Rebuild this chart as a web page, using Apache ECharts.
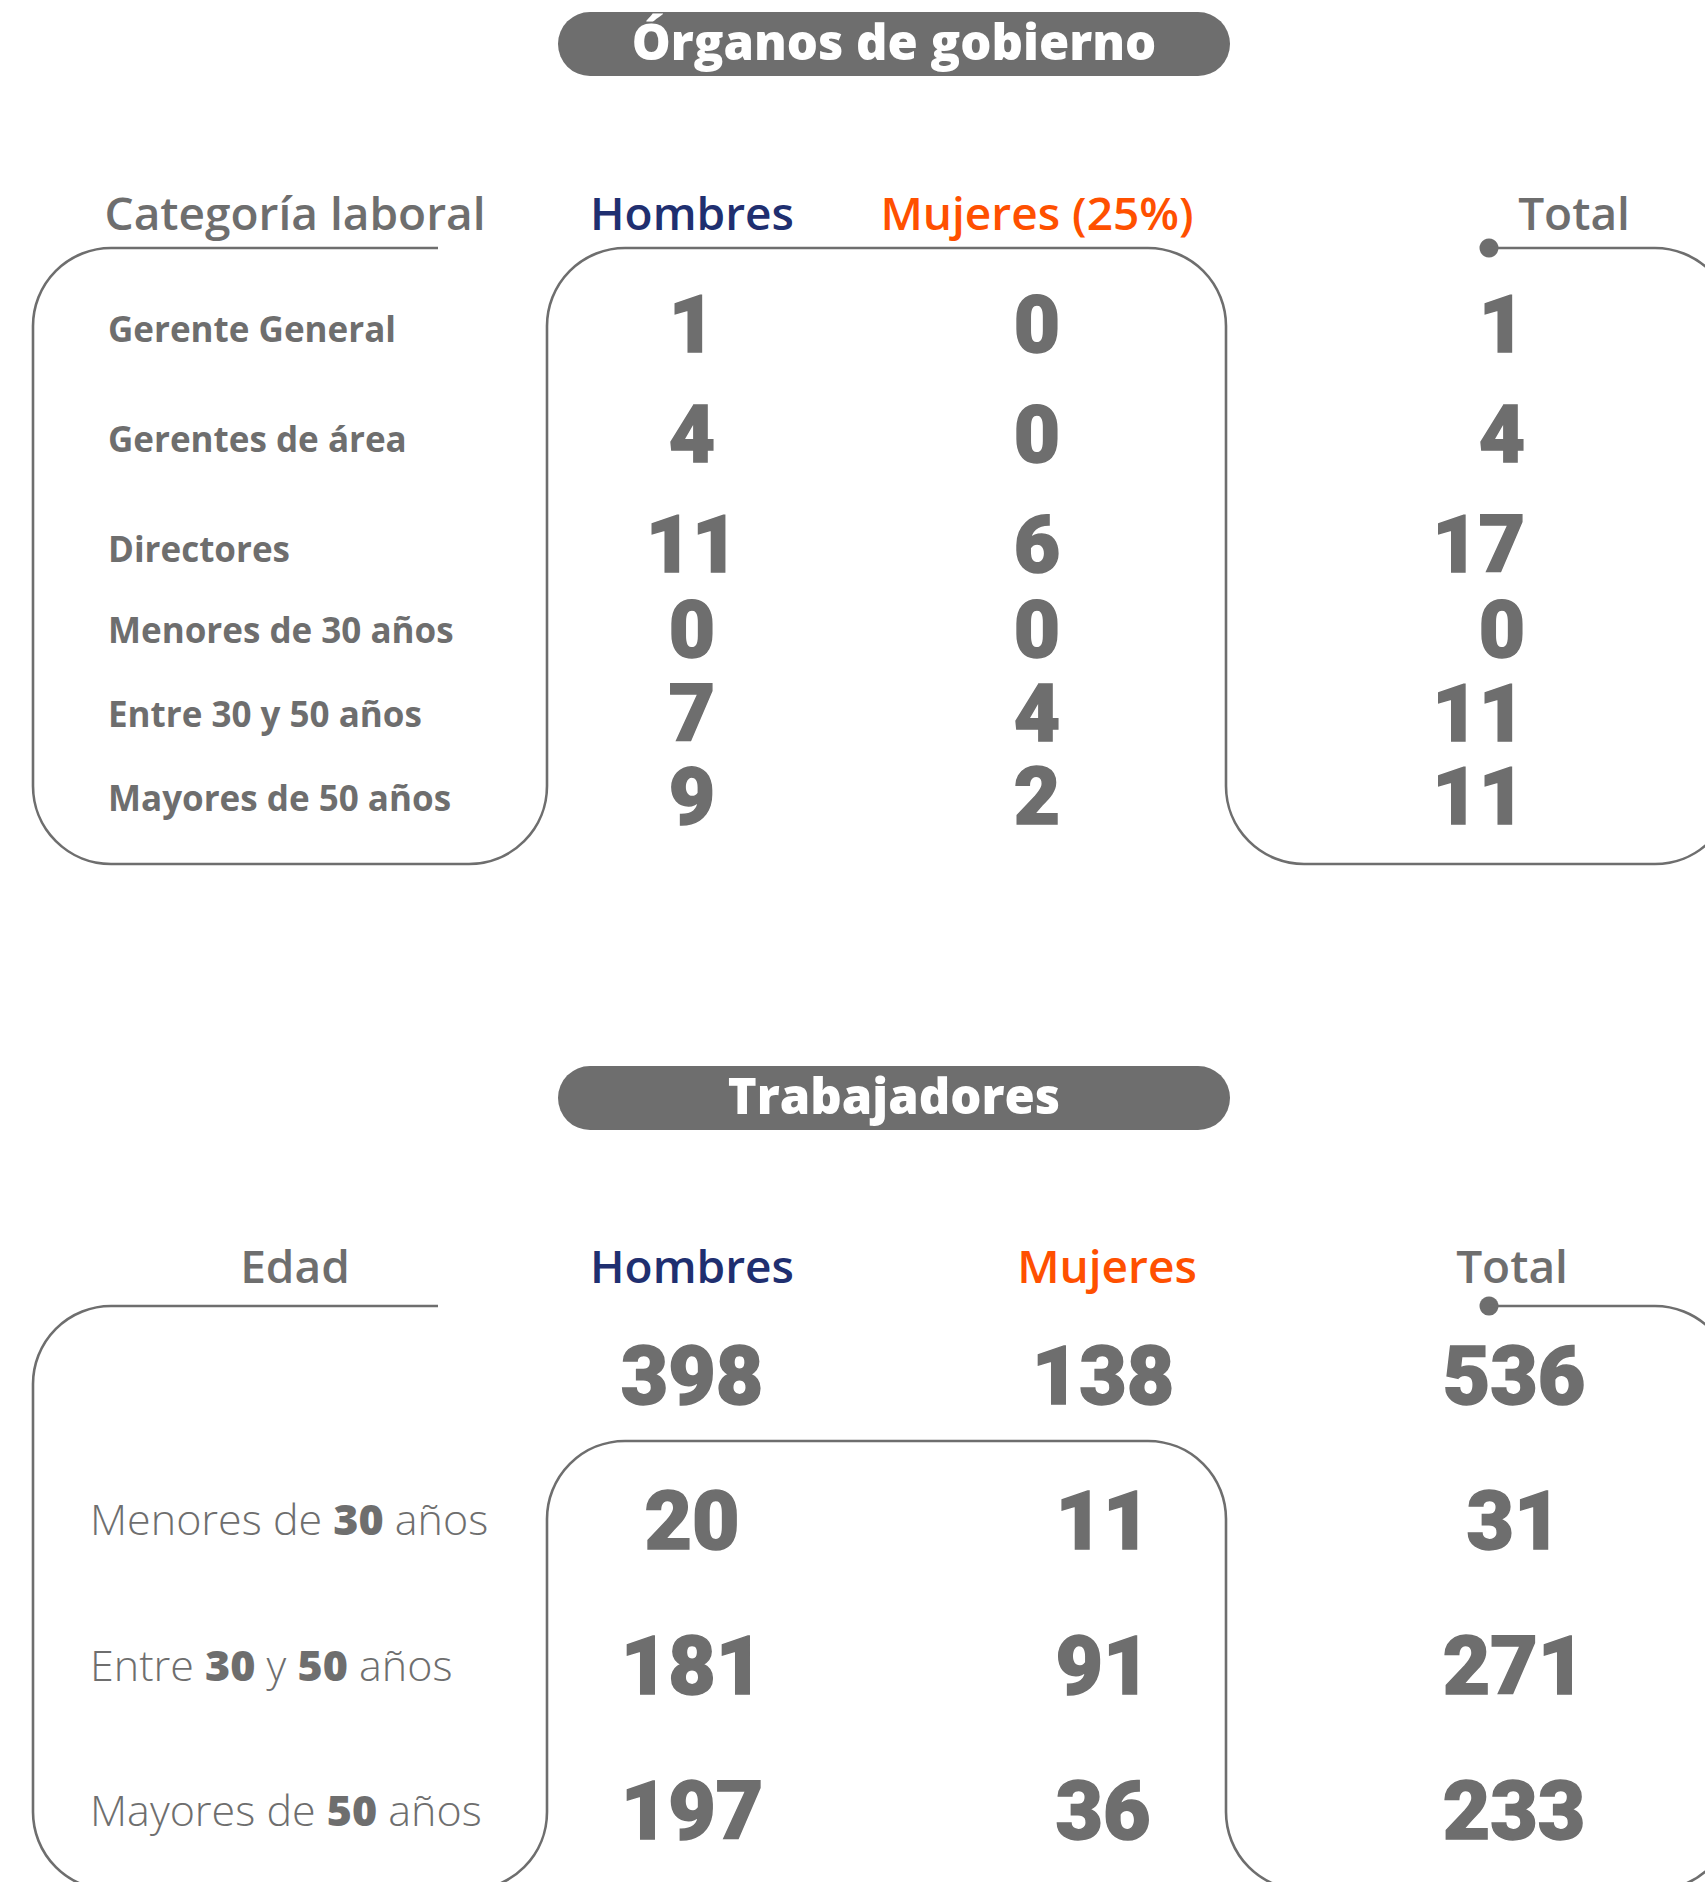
<!DOCTYPE html>
<html><head><meta charset="utf-8">
<script src="https://cdn.jsdelivr.net/npm/echarts@6/dist/echarts.min.js"></script>
<style>html,body{margin:0;padding:0;background:#fff}#c{width:1705px;height:1882px}</style>
</head><body><div id="c"></div>
<script>
// ---- data ----
const titles = ['Órganos de gobierno', 'Trabajadores'];
const header1 = ['Categoría laboral', 'Hombres', 'Mujeres (25%)', 'Total'];
const header2 = ['Edad', 'Hombres', 'Mujeres', 'Total'];
const columns = ['Hombres', 'Mujeres', 'Total'];
const categories1 = ['Gerente General', 'Gerentes de área', 'Directores', 'Menores de 30 años', 'Entre 30 y 50 años', 'Mayores de 50 años'];
const hombres1 = [1, 4, 11, 0, 7, 9];
const mujeres1 = [0, 0, 6, 0, 4, 2];
const total1 = [1, 4, 17, 0, 11, 11];
const categories2 = ['Total', 'Menores de 30 años', 'Entre 30 y 50 años', 'Mayores de 50 años'];
const hombres2 = [398, 20, 181, 197];
const mujeres2 = [138, 11, 91, 36];
const total2 = [536, 31, 271, 233];

// ---- style ----
const GRAY = '#6e6e6e', NAVY = '#1f2f70', ORANGE = '#ff5000';
const SANS = '"Open Sans", "Noto Sans", sans-serif';
const NUMF = 'Roboto, "Open Sans", sans-serif';
const LW = 2.6, R = 78;

const chart = echarts.init(document.getElementById('c'), null, {renderer: 'svg'});

// graphic helpers
const G = [];
function line(x1, y1, x2, y2) { G.push({type: 'line', shape: {x1, y1, x2, y2}, style: {stroke: GRAY, lineWidth: LW}}); }
function arc(cx, cy, q) {
  const s = {TL: [Math.PI, 1.5 * Math.PI], TR: [1.5 * Math.PI, 2 * Math.PI], BR: [0, 0.5 * Math.PI], BL: [0.5 * Math.PI, Math.PI]}[q];
  G.push({type: 'arc', shape: {cx, cy, r: R, startAngle: s[0], endAngle: s[1], clockwise: true}, style: {stroke: GRAY, lineWidth: LW, fill: null}});
}
function dot(x, y) { G.push({type: 'circle', shape: {cx: x, cy: y, r: 9.5}, style: {fill: GRAY}}); }
function txt(t, x, y, size, weight, color, family) {
  G.push({type: 'text', x, y, style: {text: t, fill: color, fontSize: size, fontWeight: weight, fontFamily: family || SANS, align: 'center', verticalAlign: 'middle'}});
}
function pill(y, t, size) {
  G.push({type: 'rect', shape: {x: 558, y, width: 672, height: 64, r: 32}, style: {fill: GRAY}});
  txt(t, 894, y + 29, size, 800, '#fff');
}
// snake frame
function frame(top, midTop, bottom) {
  const L = 33, M1 = 547, M2 = 1226, RX = 1733;
  line(L + R, top, 438, top); arc(L + R, top + R, 'TL');
  line(L, top + R, L, bottom - R); arc(L + R, bottom - R, 'BL');
  line(L + R, bottom, M1 - R, bottom); arc(M1 - R, bottom - R, 'BR');
  line(M1, bottom - R, M1, midTop + R); arc(M1 + R, midTop + R, 'TL');
  line(M1 + R, midTop, M2 - R, midTop); arc(M2 - R, midTop + R, 'TR');
  line(M2, midTop + R, M2, bottom - R); arc(M2 + R, bottom - R, 'BL');
  line(M2 + R, bottom, RX - R, bottom); arc(RX - R, bottom - R, 'BR');
  line(RX, bottom - R, RX, top + R);
  dot(1489, top); line(1489, top, RX - R, top); arc(RX - R, top + R, 'TR');
}

pill(12, titles[0], 49);
pill(1066, titles[1], 49);
frame(248, 248, 864);
frame(1306, 1441, 1890);
const HS = 46, HW = 600;
txt(header1[0], 295, 212, HS, HW, GRAY);
txt(header1[1], 692, 212, HS, HW, NAVY);
txt(header1[2], 1037, 212, HS, HW, ORANGE);
txt(header1[3], 1574, 212, HS, HW, GRAY);
txt(header2[0], 295, 1265, HS, HW, GRAY);
txt(header2[1], 692, 1265, HS, HW, NAVY);
txt(header2[2], 1107, 1265, HS, HW, ORANGE);
txt(header2[3], 1512, 1265, HS, HW, GRAY);

// ---- grids / axes (x: columns placed on the grid edges and centre) ----
const grids = [
  {left: 692, width: 690, top: 273, height: 330},
  {left: 692, width: 690, top: 588, height: 251},
  {left: 692, width: 822, top: 1301, height: 581}
];
const rowSets = [categories1.slice(0, 3), categories1.slice(3), categories2];
const valueSets = [
  [hombres1.slice(0, 3), mujeres1.slice(0, 3), total1.slice(0, 3)],
  [hombres1.slice(3), mujeres1.slice(3), total1.slice(3)],
  [hombres2, mujeres2, total2]
];
function richLabel(v) {
  if (v === 'Total') return '';
  return v.split(/(\d+)/).filter(s => s.length).map(s => /^\d+$/.test(s) ? '{b|' + s + '}' : '{n|' + s + '}').join('');
}
const xAxes = grids.map((g, i) => ({gridIndex: i, type: 'category', boundaryGap: false, data: columns, show: false}));
const yAxes = grids.map((g, i) => {
  const sec2 = i === 2;
  return {
    gridIndex: i, type: 'category', data: rowSets[i], inverse: true,
    axisLine: {show: false}, axisTick: {show: false}, splitLine: {show: false},
    axisLabel: sec2 ? {
      align: 'left', margin: g.left - 90, formatter: richLabel,
      rich: {
        n: {fontFamily: SANS, fontSize: 43, fontWeight: 300, color: GRAY},
        b: {fontFamily: SANS, fontSize: 43, fontWeight: 800, color: GRAY}
      }
    } : {
      align: 'left', margin: g.left - 108, color: GRAY, fontFamily: SANS, fontSize: 35, fontWeight: 700
    }
  };
});
const series = [];
grids.forEach((g, gi) => {
  columns.forEach((col, ci) => {
    const vals = valueSets[gi][ci];
    const rightAlignTotal = gi < 2 && ci === 2;
    const dy = gi === 0 ? -3 : (gi === 2 ? 2 : 0);
    series.push({
      type: 'scatter', xAxisIndex: gi, yAxisIndex: gi, silent: true,
      symbolSize: 1, itemStyle: {color: 'rgba(0,0,0,0)', opacity: 1},
      data: rowSets[gi].map((r, ri) => [col, r, vals[ri]]),
      label: {
        show: true, position: 'inside', formatter: p => String(p.value[2]),
        color: GRAY, opacity: 1, fontFamily: NUMF, fontWeight: 900, fontSize: gi < 2 ? 80 : 82,
        lineHeight: 60, textBorderColor: GRAY, textBorderWidth: 1.5,
        align: rightAlignTotal ? 'right' : 'center',
        offset: rightAlignTotal ? [143, dy] : [0, dy]
      }
    });
  });
});

chart.setOption({
  animation: false,
  backgroundColor: '#fff',
  grid: grids,
  xAxis: xAxes,
  yAxis: yAxes,
  series: series,
  graphic: {elements: G}
});
</script></body></html>
